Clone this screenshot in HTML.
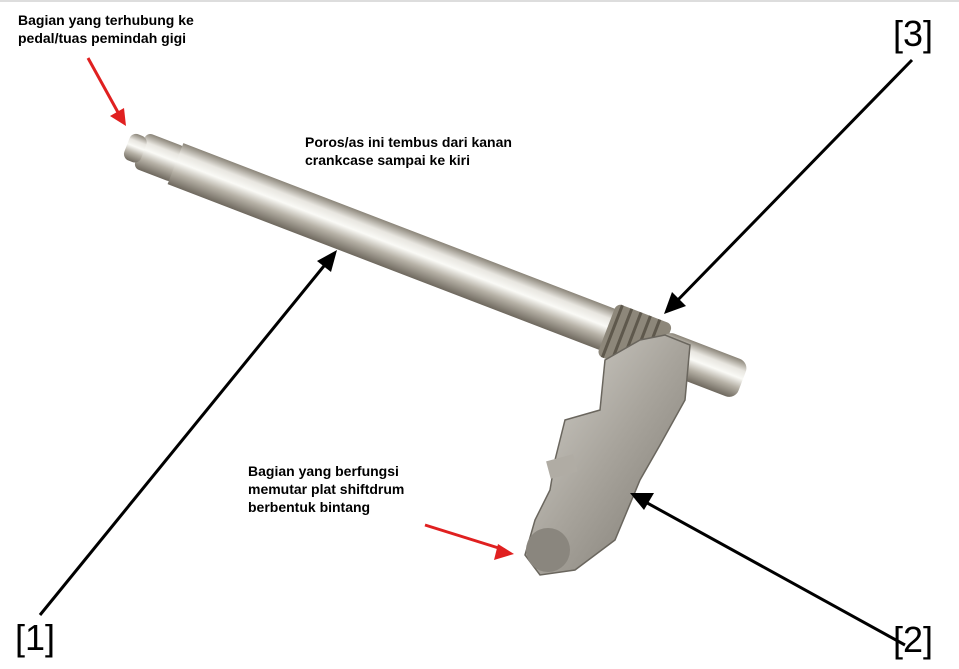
<!DOCTYPE html>
<html><head><meta charset="utf-8">
<style>
html,body{margin:0;padding:0;background:#fff;}
body{width:959px;height:669px;position:relative;overflow:hidden;font-family:"Liberation Sans",Arial,sans-serif;}
.t{position:absolute;font-weight:bold;font-size:14px;line-height:18px;color:#000;}
.b{position:absolute;font-size:36px;color:#000;line-height:40px;}
svg{position:absolute;left:0;top:0;}
</style></head><body>
<svg width="959" height="669" viewBox="0 0 959 669">
<defs>
<linearGradient id="sh" x1="0" y1="0" x2="0" y2="1">
<stop offset="0" stop-color="#8a8478"/>
<stop offset="0.25" stop-color="#e8e6e0"/>
<stop offset="0.45" stop-color="#fafaf6"/>
<stop offset="0.7" stop-color="#b5b0a5"/>
<stop offset="1" stop-color="#6e685e"/>
</linearGradient>
<linearGradient id="pl" x1="0" y1="0" x2="1" y2="1">
<stop offset="0" stop-color="#d8d6d0"/>
<stop offset="0.5" stop-color="#a8a49c"/>
<stop offset="1" stop-color="#7a766e"/>
</linearGradient>
</defs>
<line x1="0" y1="1" x2="959" y2="1" stroke="#ddd" stroke-width="2"/>
<g transform="translate(140,150) rotate(21)">
<rect x="0" y="-19" width="42" height="38" rx="6" fill="url(#sh)"/>
<rect x="-14" y="-14" width="18" height="28" rx="7" fill="url(#sh)"/>
<rect x="38" y="-22" width="520" height="44" fill="url(#sh)"/>
<rect x="500" y="-28" width="60" height="56" rx="6" fill="#8d877a"/>
<g stroke="#5e584c" stroke-width="3">
<line x1="506" y1="-28" x2="506" y2="28"/><line x1="516" y1="-28" x2="516" y2="28"/>
<line x1="526" y1="-28" x2="526" y2="28"/><line x1="536" y1="-28" x2="536" y2="28"/>
<line x1="546" y1="-28" x2="546" y2="28"/>
</g>
<rect x="555" y="-20" width="90" height="40" rx="10" fill="url(#sh)"/>
</g>
<path d="M605,360 L640,340 L665,335 L690,345 L685,400 L660,445 L640,480 L615,540 L575,570 L540,575 L525,555 L535,520 L550,490 L555,460 L565,420 L600,410 Z" fill="url(#pl)" stroke="#6a665e" stroke-width="1.5"/>
<circle cx="548" cy="550" r="22" fill="#8a867e"/>
<rect x="548" y="458" width="28" height="18" fill="#b0aca4" transform="rotate(-15 560 467)"/>
<line x1="40" y1="615" x2="328" y2="261" stroke="#000" stroke-width="3"/>
<path d="M337,250 l-6,22 l-14,-11 z" fill="#000"/>
<line x1="912" y1="60" x2="672" y2="306" stroke="#000" stroke-width="3"/>
<path d="M664,314 l8,-22 l14,14 z" fill="#000"/>
<line x1="905" y1="645" x2="640" y2="499" stroke="#000" stroke-width="3"/>
<path d="M630,493 l24,0 l-10,17 z" fill="#000"/>
<line x1="88" y1="58" x2="120" y2="116" stroke="#e02020" stroke-width="3"/>
<path d="M126,126 l-16,-10 l14,-8 z" fill="#e02020"/>
<line x1="425" y1="525" x2="505" y2="550" stroke="#e02020" stroke-width="3"/>
<path d="M514,554 l-20,6 l4,-16 z" fill="#e02020"/>
</svg>
<div class="t" style="left:18px;top:11px;">Bagian yang terhubung ke<br>pedal/tuas pemindah gigi</div>
<div class="t" style="left:305px;top:133px;">Poros/as ini tembus dari kanan<br>crankcase sampai ke kiri</div>
<div class="t" style="left:248px;top:462px;">Bagian yang berfungsi<br>memutar plat shiftdrum<br>berbentuk bintang</div>
<div class="b" style="left:893px;top:14px;">[3]</div>
<div class="b" style="left:15px;top:618px;">[1]</div>
<div class="b" style="left:893px;top:620px;">[2]</div>
</body></html>
